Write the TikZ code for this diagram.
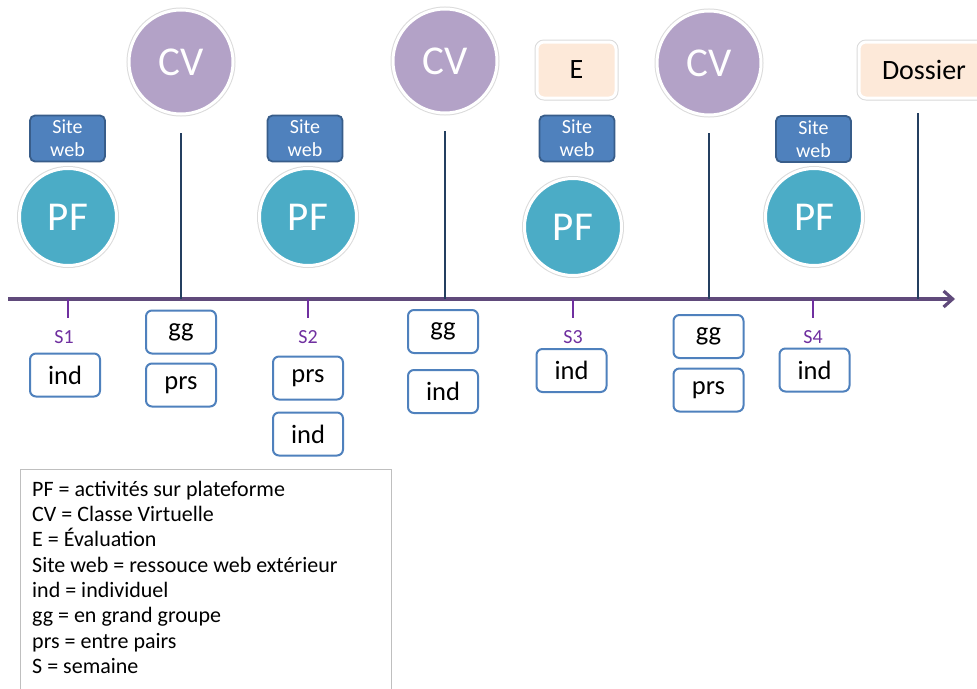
\documentclass[tikz,border=0pt]{standalone}
\usepackage{fontspec}
\setmainfont{Carlito}
\usetikzlibrary{shadows,arrows.meta}
\definecolor{cvfill}{HTML}{B3A2C7}
\definecolor{pffill}{HTML}{4BACC6}
\definecolor{sitefill}{HTML}{4F81BD}
\definecolor{siteedge}{HTML}{385D8A}
\definecolor{peach}{HTML}{FDE9D9}
\definecolor{axiscol}{HTML}{604A7B}
\definecolor{tickcol}{HTML}{7030A0}
\definecolor{vlinecol}{HTML}{243F60}
\definecolor{boxedge}{HTML}{4F81BD}
\definecolor{legedge}{HTML}{BFBFBF}
\begin{document}
\begin{tikzpicture}[x=1pt,y=-1pt,
  shad/.style={drop shadow={shadow xshift=0.6pt,shadow yshift=-2pt,opacity=0.18,fill=black}},
  ring/.style={preaction={draw=black!14,line width=5pt}},
  cvnode/.style={circle,fill=cvfill,draw=white,line width=3pt,minimum size=104pt,inner sep=0pt,
     text=white,font=\fontsize{41}{44}\selectfont,shad,ring},
  pfnode/.style={circle,fill=pffill,draw=white,line width=3pt,minimum size=97pt,inner sep=0pt,
     text=white,font=\fontsize{41}{44}\selectfont,shad,ring},
  sitebox/.style={rectangle,rounded corners=5pt,fill=sitefill,draw=siteedge,line width=1.8pt,
     minimum width=75pt,minimum height=46pt,inner sep=0pt,text=white,align=center,
     font=\fontsize{20}{23}\selectfont},
  markbox/.style={rectangle,rounded corners=7pt,fill=peach,draw=white,line width=3pt,
     minimum height=56pt,inner sep=0pt,font=\fontsize{28}{30}\selectfont,shad,ring},
  actbox/.style={rectangle,rounded corners=6pt,fill=white,draw=boxedge,line width=2pt,
     minimum width=70pt,minimum height=43pt,inner sep=0pt,font=\fontsize{26.5}{28}\selectfont},
  slabel/.style={text=tickcol,font=\fontsize{20}{22}\selectfont,inner sep=0pt},
  axisline/.style={draw=axiscol,line width=3.2pt,-{Straight Barb[length=9pt,width=16pt,line width=3.2pt]}},
  tickline/.style={draw=tickcol,line width=2.4pt},
  vline/.style={draw=vlinecol,line width=1.4pt},
  legline/.style={anchor=base west,inner sep=0pt,font=\fontsize{22}{24}\selectfont}
]
\useasboundingbox (0,0) rectangle (977,688);
\clip (0,0) rectangle (977,688);
\fill[white] (0,0) rectangle (977,688);

% axis
\coordinate (a0) at (8,299);
\coordinate (a1) at (955,299);
\draw[axisline] (a0) -- (a1);

% vertical lines
\coordinate (v1t) at (181,133); \coordinate (v1b) at (181,299);
\coordinate (v2t) at (445,131); \coordinate (v2b) at (445,299);
\coordinate (v3t) at (709,133); \coordinate (v3b) at (709,299);
\coordinate (v4t) at (918,113); \coordinate (v4b) at (918,299);
\draw[vline] (v1t) -- (v1b);
\draw[vline] (v2t) -- (v2b);
\draw[vline] (v3t) -- (v3b);
\draw[vline] (v4t) -- (v4b);

% week ticks
\coordinate (t1a) at (68,299);  \coordinate (t1b) at (68,318);
\coordinate (t2a) at (308,299); \coordinate (t2b) at (308,318);
\coordinate (t3a) at (573,299); \coordinate (t3b) at (573,318);
\coordinate (t4a) at (813,299); \coordinate (t4b) at (813,318);
\draw[tickline] (t1a) -- (t1b);
\draw[tickline] (t2a) -- (t2b);
\draw[tickline] (t3a) -- (t3b);
\draw[tickline] (t4a) -- (t4b);
\node[slabel] (s1) at (64,337) {S1};
\node[slabel] (s2) at (308,337) {S2};
\node[slabel] (s3) at (573,337) {S3};
\node[slabel] (s4) at (813,337) {S4};

% CV circles
\node[cvnode] (cv1) at (181,62) {CV};
\node[cvnode] (cv2) at (445,61) {CV};
\node[cvnode] (cv3) at (709,63) {CV};

% PF circles
\node[pfnode] (pf1) at (68,217) {PF};
\node[pfnode] (pf2) at (308,217) {PF};
\node[pfnode] (pf3) at (573,227) {PF};
\node[pfnode] (pf4) at (814,217) {PF};

% site web boxes
\node[sitebox] (sw1) at (67.5,138.5) {Site\\web};
\node[sitebox] (sw2) at (305,138.5) {Site\\web};
\node[sitebox] (sw3) at (577,138.5) {Site\\web};
\node[sitebox] (sw4) at (813.5,139) {Site\\web};

% E and Dossier
\node[markbox,minimum width=79pt] (eval) at (576.5,70) {E};
\node[markbox,minimum width=130pt] (dossier) at (924,70) {Dossier};

% activity boxes
\node[actbox] (ind1) at (65,375) {ind};
\node[actbox] (gg1)  at (181,332) {gg};
\node[actbox] (prs1) at (181,385) {prs};
\node[actbox] (prs2) at (308,378) {prs};
\node[actbox] (ind2) at (308,434) {ind};
\node[actbox] (gg2)  at (443,331.5) {gg};
\node[actbox] (ind3) at (443,391.5) {ind};
\node[actbox] (ind4) at (571.5,370.5) {ind};
\node[actbox] (gg3)  at (708.5,336.5) {gg};
\node[actbox] (prs3) at (708.5,390) {prs};
\node[actbox] (ind5) at (814.5,370) {ind};

% legend
\node[draw=legedge,line width=1.2pt,anchor=north west,minimum width=371pt,minimum height=250pt,inner sep=0pt] (legend) at (20,469) {};
\node[legline] (l1) at (32,496) {PF = activités sur plateforme};
\node[legline] (l2) at (32,521.4) {CV = Classe Virtuelle};
\node[legline] (l3) at (32,546.7) {E = Évaluation};
\node[legline] (l4) at (32,572.1) {Site web = ressouce web extérieur};
\node[legline] (l5) at (32,597.5) {ind = individuel};
\node[legline] (l6) at (32,622.9) {gg = en grand groupe};
\node[legline] (l7) at (32,648.2) {prs = entre pairs};
\node[legline] (l8) at (32,673.6) {S = semaine};
\end{tikzpicture}
\end{document}
